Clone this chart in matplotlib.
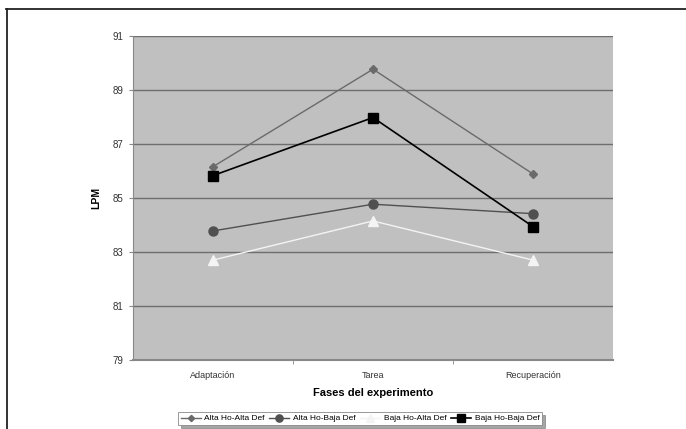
import matplotlib
matplotlib.use("Agg")
import matplotlib.pyplot as plt
from matplotlib.lines import Line2D

plt.rcParams['font.family'] = ['Liberation Sans', 'DejaVu Sans']

# Fases y valores medios de LPM por grupo
fases = ["Adaptación", "Tarea", "Recuperación"]
grupos = ["Alta Ho-Alta Def", "Alta Ho-Baja Def", "Baja Ho-Alta Def", "Baja Ho-Baja Def"]
alta_alta = [86.16, 89.77, 85.89]
alta_baja = [83.78, 84.77, 84.42]
baja_alta = [82.70, 84.15, 82.70]
baja_baja = [85.83, 87.98, 83.94]
y_ticks = [79, 81, 83, 85, 87, 89, 91]

fig = plt.figure(figsize=(6.86, 4.29), dpi=100)
ax = fig.add_axes([133 / 686, 1 - 360 / 429, 480 / 686, 324 / 429])
ax.set_facecolor("#c0c0c0")

x = list(range(len(fases)))
estilos = [
    (alta_alta, dict(color="#6a6a6a", marker="D", markersize=4, lw=1.0)),
    (alta_baja, dict(color="#505050", marker="o", markersize=6.5, lw=1.0)),
    (baja_alta, dict(color="#f4f4f4", marker="^", markersize=6.5, lw=1.0)),
    (baja_baja, dict(color="#000000", marker="s", markersize=6.5, lw=1.2)),
]
for (serie, st), nombre in zip(estilos, grupos):
    ax.plot(x, serie, label=nombre, markeredgecolor=st["color"], zorder=3, **st)

ax.set_xlim(-0.5, 2.5)
ax.set_ylim(79, 91)
ax.set_yticks(y_ticks)
ax.set_yticklabels([str(t) for t in y_ticks], fontsize=7, color="#333333")
ax.set_xticks(x)
ax.set_xticklabels(fases, fontsize=6.5, color="#333333")
ax.tick_params(axis="x", length=0, pad=8)
ax.set_xticks([0.5, 1.5], minor=True)
ax.tick_params(axis="x", which="minor", length=3, color="#888888")
ax.tick_params(axis="y", length=3, color="#888888", pad=4)
ax.yaxis.grid(True, color="#6e6e6e", lw=1.0)
ax.set_axisbelow(True)
for lado in ["top", "right"]:
    ax.spines[lado].set_visible(False)
ax.spines["left"].set_color("#888888")
ax.spines["bottom"].set_color("#888888")
ax.spines["bottom"].set_linewidth(1.5)

ax.set_xlabel("Fases del experimento", fontsize=8, fontweight="bold", labelpad=6)
ax.set_ylabel("LPM", fontsize=7.5, fontweight="bold", labelpad=8)

leg = ax.legend(loc="upper center", bbox_to_anchor=(0.473, -0.148), ncol=4,
                fontsize=6, frameon=True, fancybox=False, shadow=True,
                handlelength=2.4, handletextpad=0.4, columnspacing=0.6,
                borderpad=0.3, markerscale=0.8)
leg.get_frame().set_edgecolor("#888888")
leg.get_frame().set_linewidth(0.6)

# marco exterior de la figura
fig.add_artist(Line2D([6 / 686, 1], [1 - 9 / 429] * 2, transform=fig.transFigure, color="#222222", lw=1.3))
fig.add_artist(Line2D([7 / 686] * 2, [0, 1 - 9 / 429], transform=fig.transFigure, color="#222222", lw=1.3))

fig.savefig("out.png", dpi=100)
